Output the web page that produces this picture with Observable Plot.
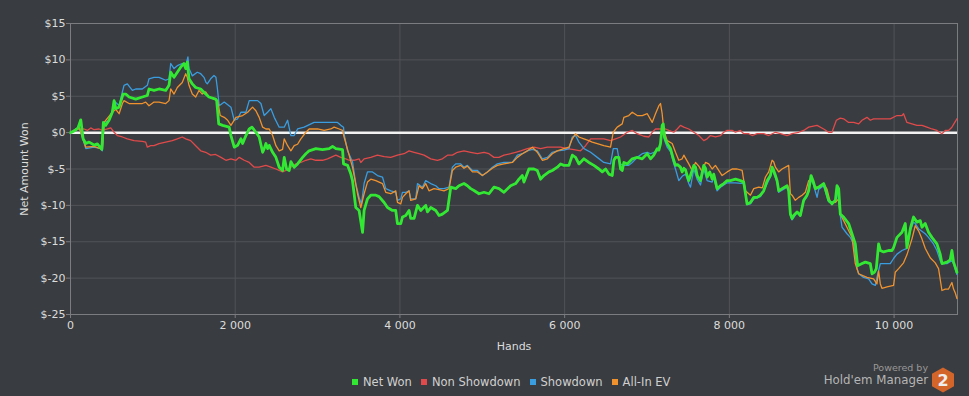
<!DOCTYPE html>
<html>
<head>
<meta charset="utf-8">
<script src="https://cdn.jsdelivr.net/npm/d3@7"></script>
<script src="https://cdn.jsdelivr.net/npm/@observablehq/plot@0.6"></script>
<style>
  html, body { margin: 0; padding: 0; background: #393c40; }
  #wrap { position: relative; width: 969px; height: 396px; background: #393c40; font-family: "DejaVu Sans", sans-serif; overflow: hidden; }
  #legend { position: absolute; left: 352px; top: 375px; display: flex; align-items: center; font-size: 11.5px; color: #d0d0d0; white-space: nowrap; }
  #legend .item { display: flex; align-items: center; margin-right: 9px; }
  #legend .sw { width: 6px; height: 6px; margin-right: 5px; }
  #brand { position: absolute; right: 41px; top: 363px; text-align: right; color: #aaa; line-height: 1; }
  #brand .p { font-size: 9.5px; color: #999; }
  #brand .h { font-size: 11.8px; color: #b5b5b5; margin-top: 2px; }
  #logo { position: absolute; left: 931px; top: 367px; }
</style>
</head>
<body>
<div id="wrap">
  <div id="chart"></div>
  <div id="legend"></div>
  <div id="brand"><div class="p">Powered by</div><div class="h">Hold'em Manager</div></div>
  <svg id="logo" width="24" height="26" viewBox="0 0 24 26">
    <polygon points="12,0.5 23,6.75 23,19.25 12,25.5 1,19.25 1,6.75" fill="#d4652a"/>
    <text x="12" y="19" text-anchor="middle" font-family="DejaVu Sans" font-weight="bold" font-size="16" fill="#eee">2</text>
  </svg>
</div>
<script>
const seriesNames = ["Net Won", "Non Showdown", "Showdown", "All-In EV"];
const seriesColors = ["#33e833", "#e04a4a", "#3a9de0", "#f0922e"];
const xTicks = [0, 2000, 4000, 6000, 8000, 10000];
const yTicks = [-25, -20, -15, -10, -5, 0, 5, 10, 15];

// [hands, dollars]
const netWon = [
[0,0],[40,0.2],[90,0.6],[125,1.76],[153,-0.85],[186,-1.5],[226,-1.3],[286,-1.7],[326,-1.55],[380,-2.3],[399,1.4],[428,1.0],[468,1.7],[508,2.8],[529,4.4],[549,3.3],[590,3.5],[638,5.3],[671,5.3],[711,4.9],[792,4.6],[872,4.9],[933,5.1],[953,6.0],[1014,5.8],[1075,6.0],[1156,5.8],[1196,6.5],[1217,8.3],[1257,7.6],[1297,8.3],[1338,9.0],[1378,9.5],[1399,8.8],[1418,9.7],[1439,7.4],[1479,6.7],[1520,6.2],[1581,6.0],[1641,5.3],[1681,4.9],[1762,4.6],[1775,4.4],[1800,1.2],[1847,1.0],[1927,0.75],[1948,-0.4],[1988,-2.0],[2029,-1.75],[2069,-0.85],[2090,-1.5],[2130,-0.4],[2170,0.5],[2203,0.75],[2251,0.05],[2291,-0.6],[2333,-2.7],[2352,-2.2],[2373,-1.5],[2393,-2.2],[2413,-1.75],[2454,-2.7],[2494,-3.4],[2534,-4.75],[2575,-5.2],[2595,-3.4],[2624,-5.0],[2655,-5.2],[2676,-4.0],[2716,-4.75],[2757,-4.3],[2818,-3.4],[2858,-2.9],[2898,-2.5],[2979,-2.2],[3060,-2.35],[3140,-2.2],[3182,-1.9],[3222,-2.2],[3303,-2.35],[3315,-4.3],[3364,-4.5],[3404,-5.7],[3424,-6.6],[3464,-10.3],[3504,-10.7],[3546,-13.7],[3565,-10.7],[3606,-9.1],[3646,-8.6],[3707,-8.6],[3747,-8.8],[3808,-9.6],[3849,-10.3],[3909,-10.7],[3949,-10.7],[3970,-12.5],[4010,-12.5],[4031,-11.6],[4071,-11.4],[4111,-10.7],[4131,-11.8],[4172,-11.8],[4213,-10.0],[4253,-10.7],[4313,-10.0],[4334,-10.9],[4374,-10.3],[4435,-10.7],[4475,-11.4],[4516,-11.2],[4577,-10.7],[4617,-7.5],[4677,-7.7],[4717,-7.3],[4778,-7.0],[4819,-7.3],[4859,-7.7],[4899,-7.95],[4960,-8.4],[5021,-8.2],[5081,-8.4],[5142,-7.5],[5203,-7.7],[5263,-8.2],[5344,-7.3],[5405,-7.0],[5445,-6.4],[5486,-5.9],[5506,-6.8],[5566,-5.0],[5627,-5.0],[5668,-5.2],[5708,-6.4],[5748,-5.9],[5809,-5.4],[5850,-5.2],[5911,-4.75],[5951,-4.3],[5991,-4.5],[6052,-4.5],[6093,-3.1],[6133,-3.4],[6173,-4.3],[6234,-3.6],[6294,-4.1],[6355,-4.5],[6416,-5.0],[6457,-5.4],[6497,-5.0],[6537,-5.7],[6578,-5.9],[6598,-3.8],[6618,-3.4],[6658,-3.4],[6679,-5.0],[6699,-5.2],[6719,-4.1],[6760,-4.3],[6821,-3.6],[6881,-3.4],[6942,-3.6],[7003,-2.9],[7043,-3.6],[7083,-3.1],[7124,-2.2],[7144,-2.4],[7164,-1.5],[7184,1.0],[7197,1.2],[7212,-0.6],[7245,-1.5],[7285,-2.2],[7325,-3.8],[7346,-4.5],[7370,-4.4],[7406,-4.75],[7427,-5.4],[7447,-4.9],[7467,-5.1],[7488,-5.9],[7507,-6.6],[7528,-5.9],[7568,-4.5],[7589,-4.75],[7609,-5.9],[7649,-6.6],[7689,-4.5],[7710,-4.9],[7730,-6.1],[7762,-5.4],[7791,-6.4],[7810,-5.7],[7851,-7.7],[7892,-7.3],[7932,-7.0],[7973,-6.6],[8013,-6.6],[8074,-6.4],[8134,-6.6],[8174,-6.8],[8215,-9.8],[8256,-9.6],[8296,-8.9],[8337,-8.9],[8377,-8.6],[8417,-8.0],[8438,-7.3],[8458,-6.6],[8498,-5.9],[8519,-4.75],[8538,-5.2],[8559,-5.9],[8579,-6.6],[8599,-8.0],[8640,-7.7],[8701,-7.3],[8720,-8.0],[8741,-11.2],[8761,-11.8],[8781,-11.4],[8822,-10.9],[8862,-11.4],[8902,-9.3],[8943,-8.6],[8963,-8.0],[8992,-5.9],[9016,-6.6],[9044,-7.7],[9084,-7.5],[9145,-7.0],[9165,-7.7],[9205,-9.3],[9246,-9.8],[9287,-9.3],[9307,-7.3],[9327,-7.7],[9347,-11.2],[9387,-11.6],[9448,-12.5],[9489,-13.9],[9529,-15.3],[9557,-18.3],[9611,-18.0],[9651,-17.8],[9711,-18.0],[9732,-19.4],[9760,-19.2],[9784,-18.7],[9812,-15.3],[9833,-16.2],[9873,-16.4],[9933,-16.2],[9974,-16.2],[9994,-15.8],[10035,-14.4],[10096,-13.7],[10136,-12.5],[10156,-15.8],[10197,-13.2],[10236,-11.6],[10277,-12.3],[10318,-12.1],[10338,-13.0],[10378,-12.5],[10418,-13.7],[10459,-14.4],[10520,-15.3],[10560,-16.7],[10581,-18.0],[10642,-17.8],[10681,-17.5],[10702,-16.2],[10722,-17.8],[10763,-19.2]
];

const nonShowdown = [
[0,0],[84,0.5],[165,0.5],[205,0.3],[246,0.65],[286,0.4],[347,0.5],[387,0.3],[448,0.5],[489,0.65],[529,0.05],[569,-0.4],[630,-0.6],[690,-0.85],[771,-1.1],[872,-1.2],[913,-1.3],[933,-2.0],[974,-1.8],[1014,-1.8],[1075,-1.5],[1156,-1.3],[1236,-1.1],[1297,-0.85],[1357,-0.6],[1399,-0.85],[1459,-1.1],[1520,-1.8],[1581,-2.5],[1641,-2.7],[1702,-3.1],[1762,-3.0],[1827,-3.4],[1887,-3.8],[1948,-3.6],[2009,-3.8],[2049,-3.4],[2109,-3.8],[2170,-4.1],[2231,-4.75],[2291,-4.75],[2373,-4.5],[2433,-4.75],[2494,-5.0],[2534,-5.2],[2575,-5.4],[2615,-5.2],[2676,-4.75],[2736,-4.3],[2797,-4.1],[2858,-3.8],[2918,-3.6],[2979,-3.8],[3060,-3.8],[3121,-3.6],[3161,-3.4],[3222,-3.1],[3282,-3.4],[3343,-3.6],[3383,-3.8],[3444,-3.8],[3504,-3.6],[3525,-4.1],[3565,-3.6],[3646,-3.4],[3727,-3.1],[3808,-3.3],[3889,-3.4],[3970,-3.1],[4050,-2.9],[4111,-2.5],[4172,-2.7],[4232,-2.9],[4293,-3.1],[4374,-3.6],[4455,-3.8],[4516,-3.6],[4577,-3.1],[4637,-3.1],[4698,-2.7],[4778,-2.5],[4859,-2.7],[4941,-2.9],[5021,-2.7],[5081,-2.9],[5142,-3.4],[5203,-3.4],[5263,-3.1],[5344,-2.9],[5405,-2.7],[5466,-2.5],[5547,-2.2],[5627,-2.0],[5708,-2.2],[5790,-2.0],[5870,-2.0],[5951,-2.0],[6032,-2.2],[6113,-2.35],[6193,-2.5],[6254,-1.8],[6315,-0.85],[6396,-0.85],[6476,-0.85],[6557,-1.1],[6618,-0.85],[6679,-0.6],[6760,0.05],[6821,0.3],[6881,-0.15],[6961,-0.5],[7022,-0.6],[7063,0.05],[7103,0.5],[7164,0.5],[7225,0.5],[7265,0.3],[7325,0.05],[7367,0.5],[7406,1.0],[7447,0.75],[7507,0.5],[7568,0.05],[7629,-0.4],[7689,-1.1],[7730,-0.85],[7770,-0.4],[7831,-0.6],[7892,-0.4],[7932,0.05],[7973,0.3],[8034,0.3],[8074,0.05],[8134,0.3],[8174,-0.15],[8235,-0.15],[8276,-0.4],[8337,-0.15],[8417,-0.15],[8478,-0.4],[8559,0.05],[8620,-0.15],[8701,-0.4],[8761,-0.15],[8842,0.05],[8902,0.3],[8963,0.75],[9065,1.0],[9145,0.5],[9205,0.05],[9246,0.05],[9299,1.7],[9347,2.0],[9387,1.9],[9448,1.4],[9509,1.4],[9570,1.2],[9611,1.7],[9671,2.1],[9711,1.7],[9751,1.9],[9833,1.9],[9954,1.9],[10035,2.35],[10096,2.35],[10115,2.6],[10156,1.4],[10217,1.2],[10277,1.0],[10338,1.0],[10399,0.75],[10459,0.5],[10520,0.3],[10581,-0.15],[10621,0.3],[10661,0.3],[10702,0.75],[10763,1.9]
];

const showdown = [
[0,0],[104,0.75],[186,-2.2],[286,-2.0],[368,-2.2],[387,-2.5],[408,1.4],[468,1.6],[508,3.0],[529,4.4],[590,3.7],[630,5.6],[650,6.5],[690,6.7],[751,5.8],[792,6.0],[872,6.0],[933,6.5],[953,7.4],[1014,7.6],[1075,7.6],[1156,7.2],[1196,7.4],[1217,9.5],[1257,8.8],[1297,9.2],[1357,9.5],[1399,9.2],[1426,10.4],[1439,8.8],[1479,7.8],[1539,8.3],[1581,8.1],[1621,7.6],[1645,6.9],[1661,6.7],[1702,7.4],[1742,7.85],[1766,7.6],[1782,6.2],[1806,3.7],[1867,4.2],[1948,3.5],[1988,1.7],[2029,1.9],[2069,2.8],[2130,2.8],[2170,4.4],[2272,4.4],[2312,4.0],[2352,2.35],[2393,2.8],[2433,3.3],[2474,2.1],[2534,0.75],[2595,0.75],[2636,1.7],[2676,-0.4],[2716,-0.4],[2757,0.5],[2837,0.75],[2958,1.4],[3121,1.4],[3242,1.4],[3282,1.0],[3315,0.75],[3322,-0.2],[3364,-2.5],[3424,-4.0],[3464,-7.0],[3504,-8.9],[3533,-9.8],[3565,-7.0],[3606,-5.4],[3667,-5.4],[3727,-5.9],[3788,-6.1],[3828,-7.7],[3889,-8.0],[3949,-8.2],[3970,-9.3],[4010,-9.1],[4031,-8.2],[4071,-8.2],[4111,-8.0],[4131,-9.1],[4192,-9.1],[4213,-7.0],[4273,-7.5],[4313,-6.6],[4374,-7.0],[4435,-7.3],[4475,-7.7],[4535,-7.7],[4596,-7.5],[4637,-4.75],[4677,-4.3],[4738,-4.3],[4778,-4.75],[4819,-4.5],[4880,-5.2],[4941,-5.2],[5001,-5.9],[5062,-5.4],[5122,-4.75],[5183,-4.3],[5263,-4.1],[5365,-4.1],[5426,-3.1],[5486,-2.9],[5547,-2.5],[5608,-2.3],[5668,-2.5],[5729,-3.6],[5790,-3.4],[5850,-2.7],[5911,-2.5],[5991,-2.4],[6052,-2.2],[6093,-0.6],[6133,-0.4],[6173,-1.3],[6234,-2.2],[6315,-2.7],[6396,-3.4],[6476,-4.1],[6557,-4.3],[6590,-2.2],[6638,-2.2],[6670,-4.3],[6719,-4.5],[6779,-4.5],[6821,-4.1],[6881,-3.4],[6942,-2.9],[7003,-2.7],[7043,-2.9],[7124,-2.5],[7164,-1.5],[7184,0.75],[7212,-1.0],[7245,-2.0],[7285,-2.6],[7325,-4.3],[7346,-5.0],[7386,-6.6],[7427,-6.0],[7467,-5.7],[7507,-7.0],[7528,-7.5],[7568,-5.0],[7609,-6.4],[7649,-7.2],[7689,-5.0],[7730,-6.6],[7791,-6.8],[7810,-6.1],[7851,-8.0],[7892,-7.5],[7973,-6.9],[8074,-6.9],[8174,-7.0],[8215,-9.9],[8256,-9.8],[8296,-9.1],[8377,-8.8],[8438,-7.5],[8498,-6.1],[8519,-5.0],[8579,-6.8],[8599,-8.2],[8701,-7.5],[8720,-8.0],[8741,-11.4],[8761,-12.0],[8822,-11.0],[8862,-11.5],[8902,-9.5],[8943,-8.8],[8983,-6.4],[9016,-7.0],[9065,-8.9],[9084,-7.8],[9145,-7.3],[9205,-9.5],[9287,-9.5],[9307,-7.5],[9347,-11.4],[9368,-13.0],[9428,-13.9],[9469,-14.4],[9509,-15.3],[9550,-18.7],[9570,-19.4],[9630,-19.9],[9691,-20.1],[9732,-20.8],[9772,-21.0],[9792,-19.9],[9833,-18.0],[9954,-18.0],[9994,-17.3],[10035,-16.7],[10096,-16.2],[10156,-15.9],[10197,-13.5],[10236,-12.3],[10257,-12.5],[10297,-13.2],[10378,-13.9],[10418,-14.4],[10479,-15.3],[10520,-16.2],[10560,-17.6],[10581,-18.0],[10642,-18.0],[10702,-17.6],[10722,-18.0],[10763,-19.5]
];

const allInEV = [
[0,0],[104,0.75],[186,-2.0],[286,-1.9],[387,-2.3],[408,1.4],[508,2.8],[549,3.2],[590,2.6],[630,4.0],[650,4.4],[711,4.0],[792,4.0],[872,4.0],[913,4.2],[953,3.7],[1014,4.2],[1075,4.2],[1156,4.0],[1196,4.4],[1217,6.0],[1257,5.3],[1297,6.2],[1357,6.9],[1399,8.1],[1418,7.6],[1439,6.5],[1479,5.3],[1520,4.9],[1560,5.8],[1600,5.3],[1641,5.6],[1681,4.9],[1742,4.6],[1787,4.4],[1818,2.35],[1867,2.1],[1908,1.7],[1948,1.0],[2009,2.1],[2090,2.35],[2151,2.8],[2211,3.5],[2251,3.0],[2291,2.1],[2333,0.75],[2373,0.5],[2413,0.5],[2454,-0.4],[2494,-1.8],[2534,-2.5],[2575,-2.3],[2595,-0.85],[2636,-1.8],[2676,-2.5],[2716,-1.8],[2757,-1.6],[2797,-0.85],[2858,0.05],[2898,0.5],[3000,0.5],[3080,0.3],[3161,0.5],[3201,0.75],[3262,0.5],[3303,0.3],[3322,-0.6],[3383,-3.1],[3424,-4.75],[3444,-5.9],[3485,-8.4],[3525,-10.3],[3565,-8.4],[3606,-6.8],[3646,-6.4],[3707,-6.6],[3747,-6.8],[3788,-7.0],[3828,-8.2],[3889,-8.4],[3949,-8.0],[3970,-9.6],[4010,-9.8],[4031,-8.9],[4071,-8.4],[4111,-8.0],[4131,-9.3],[4192,-9.1],[4232,-7.3],[4273,-7.7],[4313,-7.0],[4353,-8.0],[4414,-7.7],[4475,-7.85],[4535,-8.0],[4596,-7.7],[4637,-5.2],[4677,-4.75],[4738,-4.5],[4778,-4.9],[4819,-4.6],[4880,-5.4],[4941,-5.4],[5001,-5.9],[5062,-5.4],[5122,-4.9],[5183,-4.5],[5263,-4.3],[5365,-4.1],[5426,-3.4],[5486,-2.9],[5547,-2.5],[5608,-2.0],[5668,-2.7],[5729,-3.8],[5790,-3.6],[5850,-2.9],[5911,-2.5],[5991,-2.2],[6052,-2.0],[6093,-0.85],[6133,-0.15],[6173,-0.6],[6234,-0.85],[6294,-1.1],[6335,-1.3],[6396,-1.5],[6476,-1.8],[6557,-2.0],[6590,0.05],[6638,0.75],[6699,1.2],[6719,2.1],[6779,2.35],[6821,2.8],[6881,2.35],[6942,2.35],[7003,2.6],[7063,1.4],[7103,2.6],[7144,3.7],[7164,4.0],[7184,2.6],[7204,0.3],[7245,-1.1],[7306,-1.5],[7346,-2.7],[7386,-3.8],[7427,-3.6],[7447,-3.1],[7507,-4.3],[7548,-5.2],[7589,-4.1],[7629,-4.6],[7670,-5.4],[7710,-4.1],[7750,-4.3],[7791,-5.0],[7831,-4.5],[7871,-5.2],[7912,-5.9],[7973,-5.4],[8034,-5.0],[8094,-5.0],[8155,-5.2],[8195,-8.0],[8256,-8.6],[8296,-7.7],[8357,-7.5],[8400,-7.6],[8438,-6.1],[8478,-5.4],[8519,-3.8],[8538,-4.0],[8559,-4.75],[8599,-5.4],[8640,-5.0],[8720,-4.5],[8741,-8.4],[8761,-8.6],[8801,-9.3],[8842,-8.9],[8883,-8.6],[8923,-8.2],[8963,-6.6],[9004,-6.4],[9044,-7.5],[9105,-7.5],[9145,-7.0],[9186,-7.8],[9226,-9.6],[9287,-9.6],[9327,-9.1],[9347,-11.2],[9428,-13.0],[9489,-14.4],[9529,-18.0],[9570,-19.4],[9671,-19.9],[9751,-20.1],[9792,-20.8],[9812,-19.0],[9833,-20.8],[9853,-21.4],[9914,-21.2],[9994,-21.0],[10014,-19.2],[10055,-18.7],[10115,-17.9],[10156,-16.8],[10217,-14.6],[10257,-12.8],[10297,-13.5],[10338,-14.6],[10378,-15.9],[10439,-17.2],[10500,-17.9],[10540,-18.7],[10581,-21.7],[10621,-21.5],[10661,-21.5],[10702,-20.6],[10722,-21.5],[10742,-22.0],[10763,-22.8]
];

const fmtThousands = d3.formatLocale({decimal: ".", thousands: " ", grouping: [3], currency: ["", ""]}).format(",");
const toRows = arr => arr.map(([h, v]) => ({h, v}));

const chart = Plot.plot({
  width: 969,
  height: 360,
  marginLeft: 70,
  marginRight: 12,
  marginTop: 23,
  marginBottom: 46,
  style: {background: "#393c40", color: "#dcdcdc", fontFamily: "DejaVu Sans", fontSize: "11px"},
  x: {domain: [0, 10770]},
  y: {domain: [-25, 15]},
  marks: [
    Plot.gridY(yTicks, {stroke: "#505357", strokeOpacity: 1}),
    Plot.gridX(xTicks, {stroke: "#505357", strokeOpacity: 1}),
    Plot.frame({stroke: "#7a7c80"}),
    Plot.ruleY([0], {stroke: "#f2f2f2", strokeWidth: 2.5}),
    Plot.line(toRows(nonShowdown), {x: "h", y: "v", stroke: seriesColors[1], strokeWidth: 1.3}),
    Plot.line(toRows(showdown), {x: "h", y: "v", stroke: seriesColors[2], strokeWidth: 1.3}),
    Plot.line(toRows(allInEV), {x: "h", y: "v", stroke: seriesColors[3], strokeWidth: 1.3}),
    Plot.line(toRows(netWon), {x: "h", y: "v", stroke: seriesColors[0], strokeWidth: 2.8}),
    Plot.axisX(xTicks, {tickSize: 4, tickPadding: 3, stroke: "#7a7c80", fill: "#dcdcdc", tickFormat: fmtThousands,
      label: "Hands", labelAnchor: "center", labelArrow: "none", labelOffset: 35}),
    Plot.axisY(yTicks, {tickSize: 4, tickPadding: 1, stroke: "#7a7c80", fill: "#dcdcdc", tickFormat: d => "$" + d,
      label: "Net Amount Won", labelAnchor: "center", labelArrow: "none", labelOffset: 50})
  ]
});
document.getElementById("chart").appendChild(chart);

const legend = document.getElementById("legend");
seriesNames.forEach((name, i) => {
  const item = document.createElement("div");
  item.className = "item";
  const sw = document.createElement("span");
  sw.className = "sw";
  sw.style.background = seriesColors[i];
  const t = document.createElement("span");
  t.textContent = name;
  item.appendChild(sw);
  item.appendChild(t);
  legend.appendChild(item);
});
</script>
</body>
</html>
